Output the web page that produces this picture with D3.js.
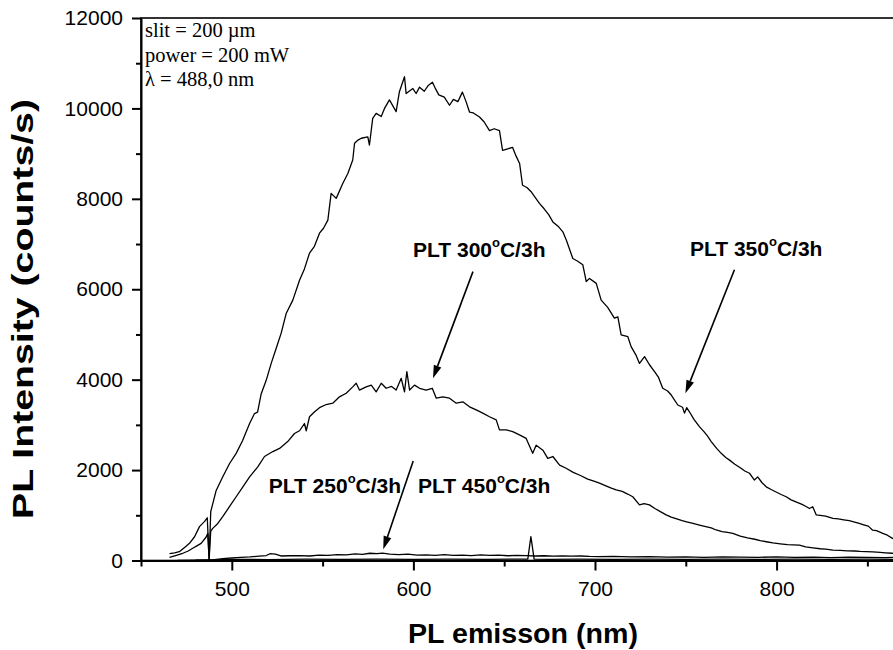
<!DOCTYPE html>
<html>
<head>
<meta charset="utf-8">
<script src="https://cdn.jsdelivr.net/npm/d3@7"></script>
<style>
  body { margin: 0; background: #fff; }
  svg { display: block; }
</style>
</head>
<body>
<svg id="chart" width="893" height="650"></svg>
<script>
// Axis ticks
const xMajorTicks = [500, 600, 700, 800];
const xMinorTicks = [450, 550, 650, 750, 850];
const yMajorTicks = [0, 2000, 4000, 6000, 8000, 10000, 12000];
const yMinorTicks = [1000, 3000, 5000, 7000, 9000, 11000];

// Measurement conditions
const conditions = ["slit = 200 \u00B5m", "power = 200 mW", "\u03BB = 488,0 nm"];

// PLT 350°C/3h spectrum: wavelength (nm) and intensity (counts/s)
const nm350 = [465.7,468.5,471.1,474,476.7,479.5,482.2,484.9,486.5,487.5,488.4,491.4,494.9,498.7,502.4,505.9,509.8,512.5,514.2,516.2,518.9,521.7,524.5,527.2,530,533.6,537.3,540,542.8,545.5,548.3,550.5,552.9,554.7,557.5,561.1,563.9,566.6,567.6,569.5,571.3,574.9,575.8,577.6,579.5,582.3,584.1,586.8,590.5,592.3,595.1,596,599.7,601.5,603.4,606,608,610.5,612,614,617,619.9,622,624.5,627,629,630.9,633,636.4,639,641.9,644.5,647.4,649.1,651.5,654.6,656.5,658.5,660.1,662.5,665,669.4,672,674.5,676.8,680,682.3,684.2,687.8,690.5,693.3,695.2,697,700.7,703.4,707,710.7,712.6,714.4,718.1,719.9,722.5,724.5,727.3,730,732.8,735,737.3,740,742,745.6,748.2,749.3,750.5,752,754.5,757.5,760,762,764,767,769.5,772,774.1,777,780,782.5,785.1,787.8,789.6,792,794.3,797,800,802.5,805.3,808,811,814,816,818.1,819.9,821.8,824,827,831,834,837,840,843,845.5,848,850.5,852.9,855,858.5,861,863.8,866,869];
const pl350 = [150,170,195,290,380,525,750,860,945,10,1080,1550,1840,2140,2370,2650,3030,3250,3280,3690,3980,4360,4700,5030,5470,5760,6200,6450,6800,6950,7240,7350,7530,8120,8010,8340,8560,8860,9230,9300,9340,9370,9190,9780,9890,9820,10000,10190,9930,10370,10700,10330,10440,10330,10470,10380,10500,10580,10450,10300,10250,10070,10200,10150,10360,10150,9920,9900,9810,9700,9510,9550,9510,9070,9100,9140,8950,8780,8300,8250,8150,7900,7780,7650,7490,7380,7270,7090,6680,6620,6540,6170,6240,6130,5760,5600,5360,5390,4990,4950,4730,4550,4360,4510,4330,4180,4050,3810,3750,3660,3440,3390,3260,3380,3290,3120,2960,2850,2750,2630,2480,2370,2280,2220,2130,2050,1980,1930,1780,1850,1720,1630,1570,1510,1460,1410,1340,1290,1240,1200,1150,1190,1010,1000,980,930,920,900,880,850,820,790,760,670,660,600,560,490,460,420];

// PLT 300°C/3h spectrum
const nm300 = [465.7,469,473,476,478.5,481,483.1,485.9,486.8,487.5,488.4,489.5,492.3,495,498.7,502.4,506.1,509.8,514.3,518,522.6,526.3,530.8,534.5,537.3,540,541,542.8,545.6,548.3,552,555.6,559.3,563,566.6,568.5,570.3,574,576.8,579.5,582.3,585,588,590.5,593.3,595.1,596.4,597.9,600.6,603.4,607,610.4,612.6,616.2,619.9,623.6,627.2,630.9,634.6,638.2,641.9,645.6,647.4,651.1,654.7,658.4,662.1,665.7,667.6,671.3,674,676.8,680.5,684.1,688,692,696,699,702.5,706,709,711.7,715,718,720.8,724.5,727,730,733,736,739.2,742,745,748,751,754,757.5,761,764,766.7,770,773,775.9,780,784,788,791,794.3,798,802,806,809,812.6,816,820,824,827,831,835,839,843,846,849.3,853,857,860,863.8,867,870];
const pl300 = [70,110,160,210,270,330,380,520,600,10,650,710,820,970,1190,1410,1630,1850,2070,2300,2410,2480,2630,2810,2870,3030,2870,3180,3290,3380,3450,3480,3620,3700,3840,3920,3770,3840,3880,3730,3920,3810,3850,3770,4030,3730,4180,3770,3880,3810,3770,3810,3590,3620,3590,3480,3510,3400,3330,3260,3180,3110,2890,2890,2850,2780,2700,2370,2550,2440,2260,2300,2110,2040,1950,1880,1800,1760,1710,1650,1600,1560,1530,1470,1410,1230,1260,1230,1150,1080,1010,960,920,880,850,820,785,750,720,675,640,620,600,540,500,470,440,415,390,370,350,345,340,300,280,260,250,230,225,215,210,200,195,190,180,170,160,150,140];

// PLT 250°C/3h spectrum
const nm250 = [480,488,495,500,505,510,515,519,521,524,527,532,537,543,548,553,558,563,568,572,576,580,583,587,592,597,602,607,612,617,622,627,632,637,642,647,652,657,662,667,672,677,682,687,692,697,702,710,720,730,740,750,760,770,780,790,800,810,820,830,840,850,860,870];
const pl250 = [5,10,40,55,70,80,95,110,150,140,100,105,110,100,120,115,130,125,145,135,160,150,165,140,130,140,120,125,115,130,115,120,110,125,115,120,105,115,110,100,105,95,100,95,100,90,85,90,80,85,75,80,70,80,75,70,80,70,75,65,75,70,65,70];

// PLT 450°C/3h spectrum
const nm450 = [470,480,488,495,505,520,540,560,580,600,620,640,655,663,664.7,666.5,675,690,710,730,750,770,790,810,830,850,870];
const pl450 = [0,5,15,20,25,20,30,25,30,25,30,25,30,30,530,30,25,30,25,30,25,30,25,30,25,30,25];

const curves = [
  { nm: nm350, pl: pl350 },
  { nm: nm300, pl: pl300 },
  { nm: nm250, pl: pl250 },
  { nm: nm450, pl: pl450 }
];

// Curve annotations: text, label anchor and arrow (tail -> head) in data units
const labels = [
  { main: "PLT 300", rest: "C/3h", at: [599.8, 6710], tail: [632.8, 6390], head: [610.8, 4030] },
  { main: "PLT 350", rest: "C/3h", at: [752.3, 6735], tail: [776.8, 6430], head: [749.8, 3700] },
  { main: "PLT 250", rest: "C/3h", at: [520.3, 1490], tail: [599.9, 2200], head: [583.4, 250] },
  { main: "PLT 450", rest: "C/3h", at: [602.5, 1490], tail: null, head: null }
];

const svg = d3.select("#chart");
const font = "'Liberation Sans', Arial, sans-serif";

const x = d3.scaleLinear().domain([450, 870]).range([141, 903.7]);
const y = d3.scaleLinear().domain([0, 12000]).range([560.5, 18]);

// Plot frame (right side runs past the page edge)
svg.append("rect")
  .attr("x", x(450)).attr("y", y(12000))
  .attr("width", x(870) - x(450)).attr("height", y(0) - y(12000))
  .attr("fill", "none").attr("stroke", "#000").attr("stroke-width", 1.6);

svg.append("defs").append("clipPath").attr("id", "plot")
  .append("rect")
  .attr("x", x(450)).attr("y", y(12000) - 5)
  .attr("width", x(870) - x(450)).attr("height", y(0) - y(12000) + 5);

// Spectra
const line = d3.line().x(d => x(d[0])).y(d => y(d[1]));
const gCurves = svg.append("g").attr("clip-path", "url(#plot)");
curves.forEach(c => {
  gCurves.append("path")
    .datum(c.nm.map((v, i) => [v, c.pl[i]]))
    .attr("d", line)
    .attr("fill", "none")
    .attr("stroke", "#000")
    .attr("stroke-width", 1.3)
    .attr("stroke-linejoin", "round");
});

// Axes
function styleAxis(g) {
  g.select(".domain").attr("stroke", "#000").attr("stroke-width", 2);
  g.selectAll(".tick line").attr("stroke", "#000").attr("stroke-width", 2);
  g.selectAll(".tick text").attr("fill", "#000").attr("font-size", 21).attr("font-family", font);
}

const gx = svg.append("g").attr("transform", `translate(0,${y(0)})`)
  .call(d3.axisBottom(x).tickValues(xMajorTicks).tickSize(10).tickPadding(11).tickSizeOuter(0));
styleAxis(gx);
const gxm = svg.append("g").attr("transform", `translate(0,${y(0)})`)
  .call(d3.axisBottom(x).tickValues(xMinorTicks).tickSize(6).tickFormat("").tickSizeOuter(0));
styleAxis(gxm);
gxm.select(".domain").remove();

const gy = svg.append("g").attr("transform", `translate(${x(450)},0)`)
  .call(d3.axisLeft(y).tickValues(yMajorTicks).tickSize(9).tickPadding(9).tickSizeOuter(0).tickFormat(d3.format("d")));
styleAxis(gy);
const gym = svg.append("g").attr("transform", `translate(${x(450)},0)`)
  .call(d3.axisLeft(y).tickValues(yMinorTicks).tickSize(5).tickFormat("").tickSizeOuter(0));
styleAxis(gym);
gym.select(".domain").remove();

// Axis titles
svg.append("text")
  .attr("x", 523).attr("y", 643)
  .attr("text-anchor", "middle")
  .attr("font-family", font).attr("font-weight", "bold").attr("font-size", 27)
  .attr("textLength", 230).attr("lengthAdjust", "spacingAndGlyphs")
  .text("PL emisson (nm)");

svg.append("text")
  .attr("transform", "translate(33,309) rotate(-90)")
  .attr("text-anchor", "middle")
  .attr("font-family", font).attr("font-weight", "bold").attr("font-size", 30)
  .attr("textLength", 420).attr("lengthAdjust", "spacingAndGlyphs")
  .text("PL Intensity (counts/s)");

// Measurement conditions box text
svg.append("g").selectAll("text").data(conditions).join("text")
  .attr("x", 145).attr("y", (d, i) => 37 + i * 24.5)
  .attr("font-family", "'Liberation Serif', 'Times New Roman', serif")
  .attr("font-size", 20.5)
  .text(d => d);

// Curve labels with degree superscript
labels.forEach(l => {
  const t = svg.append("text")
    .attr("x", x(l.at[0])).attr("y", y(l.at[1]))
    .attr("font-family", font).attr("font-weight", "bold").attr("font-size", 21);
  t.append("tspan").text(l.main);
  t.append("tspan").attr("font-size", 13).attr("dy", -10).text("o");
  t.append("tspan").attr("dy", 10).text(l.rest);
});

// Arrows
labels.filter(l => l.tail).forEach(l => {
  const x1 = x(l.tail[0]), y1 = y(l.tail[1]);
  const x2 = x(l.head[0]), y2 = y(l.head[1]);
  const ang = Math.atan2(y2 - y1, x2 - x1);
  const len = 13, half = 4;
  const bx = x2 - len * Math.cos(ang), by = y2 - len * Math.sin(ang);
  svg.append("line")
    .attr("x1", x1).attr("y1", y1).attr("x2", bx).attr("y2", by)
    .attr("stroke", "#000").attr("stroke-width", 1.6);
  const px = -Math.sin(ang) * half, py = Math.cos(ang) * half;
  svg.append("path")
    .attr("d", `M${x2},${y2}L${bx + px},${by + py}L${bx - px},${by - py}Z`)
    .attr("fill", "#000");
});
</script>
</body>
</html>
